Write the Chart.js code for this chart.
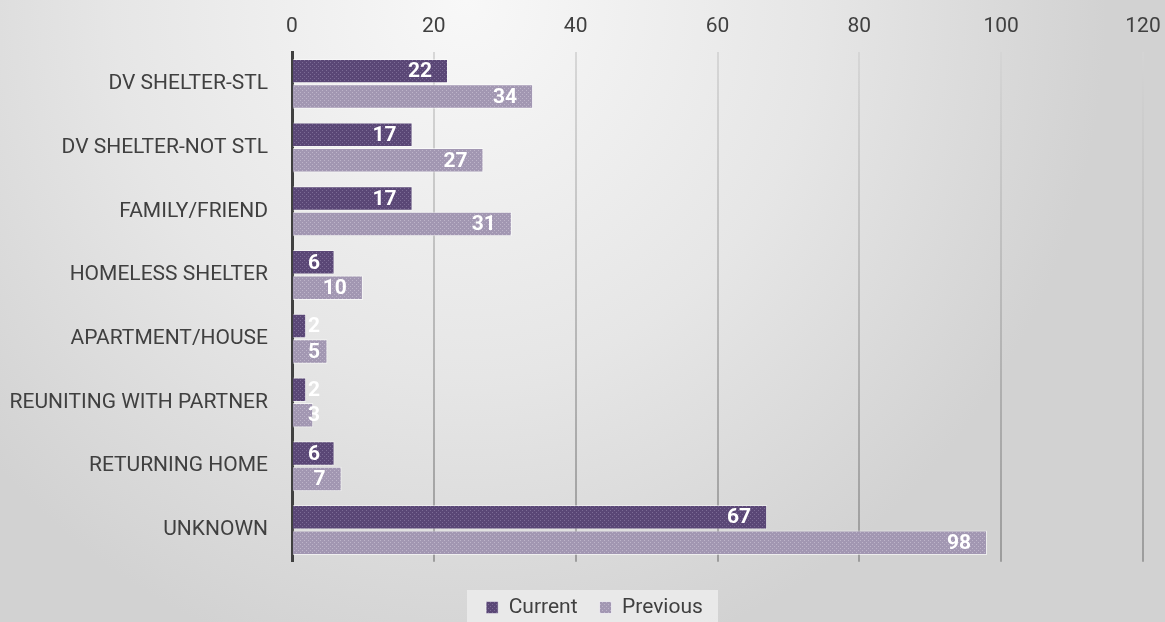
<!DOCTYPE html>
<html>
<head>
<meta charset="utf-8">
<script src="https://cdn.jsdelivr.net/npm/chart.js@4/dist/chart.umd.min.js"></script>
<style>
  html, body { margin: 0; padding: 0; }
  body {
    width: 1165px; height: 622px; overflow: hidden;
    background: radial-gradient(ellipse 55% 110% at 40% 0%, #f8f8f8 0%, #e6e6e6 55%, #d2d2d2 100%);
  }
  #wrap { width: 1165px; height: 622px; }
</style>
</head>
<body>
<div id="wrap"><canvas id="chart" width="1165" height="622"></canvas></div>
<script>
const categories = [
  "DV SHELTER-STL",
  "DV SHELTER-NOT STL",
  "FAMILY/FRIEND",
  "HOMELESS SHELTER",
  "APARTMENT/HOUSE",
  "REUNITING WITH PARTNER",
  "RETURNING HOME",
  "UNKNOWN",
];
const currentValues = [22, 17, 17, 6, 2, 2, 6, 67];
const previousValues = [34, 27, 31, 10, 5, 3, 7, 98];
const axisMax = 120;
const axisStep = 20;

// small dotted tile, like the textured fills of the original
function makePattern(base, dot) {
  const c = document.createElement("canvas");
  c.width = 4;
  c.height = 4;
  const g = c.getContext("2d");
  g.fillStyle = base;
  g.fillRect(0, 0, 4, 4);
  g.fillStyle = dot;
  g.fillRect(0, 0, 1, 1);
  g.fillRect(2, 2, 1, 1);
  return g.createPattern(c, "repeat");
}

const ctx = document.getElementById("chart").getContext("2d");
const darkFill = makePattern("#5a4776", "#7b6b95");
const lightFill = makePattern("#a297b2", "#bdb4c9");

const FONT = "Roboto, 'Liberation Sans', sans-serif";

// value labels: inside the bar end, pushed right when the bar is too short
const valueLabels = {
  id: "valueLabels",
  afterDatasetsDraw(chart) {
    const c = chart.ctx;
    const base = chart.scales.x.getPixelForValue(0);
    c.save();
    c.font = "bold 21px " + FONT;
    c.fillStyle = "#ffffff";
    c.textAlign = "right";
    c.textBaseline = "middle";
    chart.data.datasets.forEach((ds, i) => {
      chart.getDatasetMeta(i).data.forEach((bar, j) => {
        const txt = String(ds.data[j]);
        const w = c.measureText(txt).width;
        const x = Math.max(bar.x - 16, base + 16 + w);
        c.fillText(txt, x, bar.y + 1);
      });
    });
    c.restore();
  },
};

// lighter box behind the legend, and nudge the legend a bit right like the original
const legendBox = {
  id: "legendBox",
  afterLayout(chart) {
    if (!chart.legend) return;
    chart.legend.left += 23;
    chart.legend.right += 23;
  },
  beforeDraw(chart) {
    const c = chart.ctx;
    c.save();
    c.fillStyle = "rgba(236,236,236,0.85)";
    c.fillRect(467, 590, 251, 32);
    c.restore();
  },
};

new Chart(ctx, {
  type: "bar",
  data: {
    labels: categories,
    datasets: [
      {
        label: "Current",
        data: currentValues,
        backgroundColor: darkFill,
        borderColor: "rgba(255,255,255,0.45)",
        borderWidth: 1,
        borderSkipped: "left",
      },
      {
        label: "Previous",
        data: previousValues,
        backgroundColor: lightFill,
        borderColor: "rgba(255,255,255,0.6)",
        borderWidth: 1,
        borderSkipped: "left",
      },
    ],
  },
  options: {
    indexAxis: "y",
    responsive: false,
    animation: false,
    layout: { padding: { left: 0, right: 22, top: 0, bottom: -6 } },
    datasets: {
      bar: { categoryPercentage: 0.8, barPercentage: 0.96 },
    },
    plugins: {
      legend: {
        position: "bottom",
        title: {
          display: true,
          text: " ",
          font: { size: 1 },
          padding: { top: 0, bottom: 12 },
        },
        labels: {
          font: { size: 21, family: FONT },
          color: "#404040",
          boxWidth: 12,
          boxHeight: 12,
          padding: 22,
        },
      },
      tooltip: { enabled: false },
    },
    scales: {
      x: {
        position: "top",
        min: 0,
        max: axisMax,
        ticks: {
          stepSize: axisStep,
          color: "#404040",
          font: { size: 21, family: FONT },
          padding: 13,
        },
        grid: {
          drawTicks: false,
          lineWidth: 2,
          color: (c) => {
            if (c.tick && c.tick.value === 0) return "rgba(0,0,0,0)";
            const area = c.chart.chartArea;
            if (!area) return "#c8c8c8";
            const g = c.chart.ctx.createLinearGradient(0, area.top, 0, area.bottom);
            g.addColorStop(0, "rgba(212,212,212,0.9)");
            g.addColorStop(1, "rgba(150,150,150,0.9)");
            return g;
          },
        },
        border: { display: false },
        afterFit(scale) {
          scale.height = 52;
          scale.paddingLeft = 0;
          scale.paddingRight = 0;
        },
      },
      y: {
        ticks: {
          color: "#404040",
          font: { size: 21, family: FONT },
          padding: 24,
        },
        grid: { display: false, drawTicks: false },
        border: { display: true, color: "#404040", width: 3 },
        afterFit(scale) { scale.width = 292; },
      },
    },
  },
  plugins: [legendBox, valueLabels],
});
</script>
</body>
</html>
